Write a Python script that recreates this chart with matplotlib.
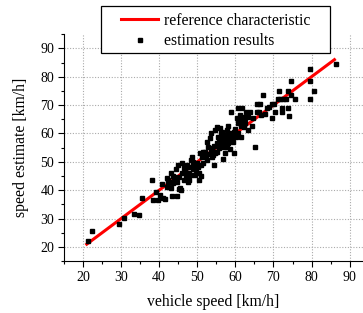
import numpy as np
import matplotlib.pyplot as plt
from matplotlib.ticker import MultipleLocator
from matplotlib.patches import Rectangle

plt.rcParams['font.family'] = ['Liberation Serif', 'DejaVu Serif']

# vehicle speed vs. estimated speed [km/h]
speed = [21.2, 22.3, 29.4, 30.9, 33.4, 34.7, 35.6, 38.1, 38.3, 39.1, 39.6, 40.3,
         40.8, 41.1, 41.5, 42.0, 42.3, 42.9, 43.1, 43.5, 43.7, 43.9, 44.4, 44.6,
         45.0, 45.2, 45.3, 45.7, 46.1, 46.5, 46.9, 47.1, 47.4, 47.7, 47.8, 48.1,
         48.5, 48.8, 49.0, 49.4, 49.9, 50.1, 50.5, 50.7, 51.0, 51.3, 51.6, 51.8,
         52.3, 52.6, 52.9, 53.3, 53.6, 53.8, 54.0, 54.3, 54.7, 54.9, 55.1, 55.3,
         55.5, 55.8, 56.0, 56.2, 56.5, 56.7, 56.8, 57.1, 57.3, 57.5, 57.8, 58.1,
         58.2, 58.6, 58.8, 59.0, 59.5, 59.7, 60.0, 60.2, 60.5, 60.6, 60.8, 61.1,
         61.2, 61.4, 61.5, 61.7, 61.9, 62.2, 62.3, 62.6, 63.0, 63.4, 63.8, 64.3,
         64.7, 65.1, 65.6, 65.8, 66.1, 66.4, 66.8, 67.3, 67.7, 68.2, 68.7, 69.5,
         69.7, 70.1, 70.5, 71.3, 71.4, 71.7, 72.2, 72.2, 72.6, 73.2, 73.9, 73.9,
         74.0, 74.7, 74.7, 75.6, 79.5, 79.5, 79.5, 80.6, 86.3,
         46.8, 47.2, 47.9, 48.3, 49.2, 49.6, 50.3, 50.5, 51.1, 51.4, 52.0, 52.5,
         53.0, 53.5, 53.8, 54.2, 54.4, 54.7, 55.3, 55.6, 56.0, 56.3, 56.5, 57.0,
         57.3, 57.7, 58.0, 58.1, 58.4, 58.8, 59.2, 59.7, 60.7, 61.0, 61.6, 62.0,
         62.5, 62.7, 63.2,
         42.0, 42.4, 43.1, 43.6, 44.2, 44.8, 45.5, 45.9, 46.4, 47.5, 48.3]
estimate = [22.2, 25.5, 28.2, 30.1, 31.5, 31.2, 37.3, 43.6, 36.4, 39.5, 36.6, 38.2,
            42.1, 37.1, 36.8, 41.0, 43.6, 43.0, 45.9, 38.1, 42.6, 44.8, 47.4, 38.1,
            48.9, 44.8, 40.4, 40.1, 49.5, 43.6, 47.1, 44.8, 48.9, 43.0, 46.2, 48.3,
            51.8, 50.1, 47.4, 45.4, 49.5, 48.7, 43.6, 53.2, 45.0, 51.8, 49.5, 53.2,
            51.8, 57.1, 55.4, 58.3, 60.0, 54.8, 51.8, 48.9, 61.2, 53.6, 62.4, 56.5,
            58.9, 54.8, 61.8, 60.0, 56.5, 50.9, 57.7, 55.4, 53.0, 58.9, 61.2, 56.5,
            62.6, 54.4, 67.7, 58.6, 57.1, 53.0, 61.5, 58.9, 65.3, 68.9, 60.0, 66.5,
            63.6, 62.6, 58.9, 68.9, 64.7, 62.4, 65.9, 63.8, 66.5, 61.2, 67.7, 62.6,
            65.3, 55.4, 67.7, 70.4, 67.7, 70.4, 66.5, 73.6, 66.9, 68.9, 69.4, 65.3,
            70.4, 70.4, 67.7, 72.0, 75.1, 72.0, 68.9, 67.7, 72.0, 72.0, 75.1, 68.9,
            66.2, 78.6, 73.6, 72.0, 82.6, 78.6, 72.0, 75.1, 84.6,
            47.7, 46.0, 43.6, 50.7, 48.5, 47.1, 48.3, 46.2, 48.9, 53.6, 53.6, 50.7,
            52.8, 54.4, 53.6, 52.4, 55.7, 53.0, 53.6, 57.1, 55.1, 58.3, 60.6, 59.5,
            57.1, 55.4, 58.3, 60.0, 57.7, 59.5, 60.0, 60.6, 63.6, 64.7, 64.7, 64.2,
            65.3, 67.7, 65.9,
            44.2, 42.4, 40.7, 45.1, 43.6, 43.0, 40.7, 45.9, 47.7, 44.2, 45.4]

ref_x = [21, 86]
ref_y = [21, 86]

W, H = 363, 313
fig = plt.figure(figsize=(W / 100, H / 100), dpi=100)
ax = fig.add_axes([0.176, 0.1655, 0.824, 0.7255])

ax.grid(True, which='major', color='#aaaaaa', linestyle=(0, (1, 1.5)), linewidth=0.8)
ax.set_axisbelow(True)

ax.plot(ref_x, ref_y, color='red', linewidth=2.2, label='reference characteristic', zorder=2)
ax.plot(speed, estimate, 's', color='black', markersize=2.9, linestyle='none',
        label='estimation results', zorder=3)

ax.set_xlim(15, 93.5)
ax.set_ylim(15, 95)
ax.xaxis.set_minor_locator(MultipleLocator(5))
ax.yaxis.set_minor_locator(MultipleLocator(5))
ax.set_xticks(range(20, 100, 10))
ax.set_yticks(range(20, 100, 10))

for s in ['top', 'right']:
    ax.spines[s].set_visible(False)
ax.tick_params(which='major', direction='out', length=4, width=0.8, labelsize=10, pad=3)
ax.tick_params(which='minor', direction='out', length=2.2, width=0.8)

ax.set_xlabel('vehicle speed [km/h]', fontsize=11.3, labelpad=7)
ax.set_ylabel('speed estimate [km/h]', fontsize=11.3, labelpad=8)

# legend box drawn separately so it can be wider than its content
box = Rectangle((101 / W, 1 - 53 / H), 229 / W, 47 / H, transform=fig.transFigure,
                facecolor='white', edgecolor='black', linewidth=0.9,
                clip_on=False, zorder=4)
ax.add_patch(box)
leg = ax.legend(loc='center', bbox_to_anchor=(215.5 / W, 1 - 31 / H),
                bbox_transform=fig.transFigure, fontsize=11.3, frameon=False,
                handlelength=2.4, handletextpad=0.35, labelspacing=0.3,
                borderpad=0, borderaxespad=0)
leg.set_zorder(5)

fig.savefig('out.png', dpi=100)
